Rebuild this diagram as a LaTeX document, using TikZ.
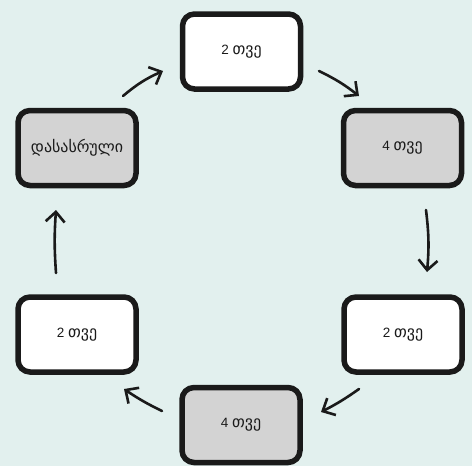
\documentclass[tikz,border=0pt]{standalone}
\usepackage{fontspec}
\setmainfont{Liberation Sans}
\newfontfamily\geo{DejaVu Sans}[Scale=1.18]
\usetikzlibrary{arrows.meta}
\definecolor{bgc}{HTML}{E2F0EE}
\definecolor{boxgrey}{HTML}{D3D3D3}
\definecolor{ink}{HTML}{1A1A1A}
\tikzset{
  box/.style={draw=ink, line width=5.5pt, rounded corners=12pt, minimum width=118pt, minimum height=75pt, inner sep=0pt, font=\fontsize{13.5}{16}\selectfont, text=ink},
  whitebox/.style={box, fill=white},
  greybox/.style={box, fill=boxgrey},
  arr/.style={draw=ink, line width=2.6pt, line cap=round, -{Straight Barb[length=10pt,width=19pt,line width=2.6pt]}},
}
\begin{document}
\begin{tikzpicture}[x=1pt,y=-1pt]
\fill[bgc] (0,0) rectangle (472,466);
\useasboundingbox (0,0) rectangle (472,466);
\node[whitebox] (t) at (241.5,51.5) {2 {\geo თვე}};
\node[greybox] (ru) at (402.5,148) {4 {\geo თვე}};
\node[whitebox] (rd) at (403,334.5) {2 {\geo თვე}};
\node[greybox] (b) at (241,425) {4 {\geo თვე}};
\node[whitebox] (ld) at (77,334.5) {2 {\geo თვე}};
\node[greybox] (lu) at (77,148) {\geo დასასრული};
\coordinate (a1s) at (123,96);
\coordinate (a1e) at (163,71);
\coordinate (a2s) at (319,71);
\coordinate (a2e) at (359,96);
\coordinate (a3s) at (426,210);
\coordinate (a3e) at (427,272);
\coordinate (a4s) at (359,389);
\coordinate (a4e) at (321,412);
\coordinate (a5s) at (162,411);
\coordinate (a5e) at (124,389);
\coordinate (a6s) at (56,273);
\coordinate (a6e) at (56,210);
\draw[arr] (a1s) to[bend left=8] (a1e);
\draw[arr] (a2s) to[bend left=6] (a2e);
\draw[arr] (a3s) to[bend left=6] (a3e);
\draw[arr] (a4s) to[bend left=4] (a4e);
\draw[arr] (a5s) to[bend left=4] (a5e);
\draw[arr] (a6s) to[bend left=4] (a6e);
\end{tikzpicture}
\end{document}
